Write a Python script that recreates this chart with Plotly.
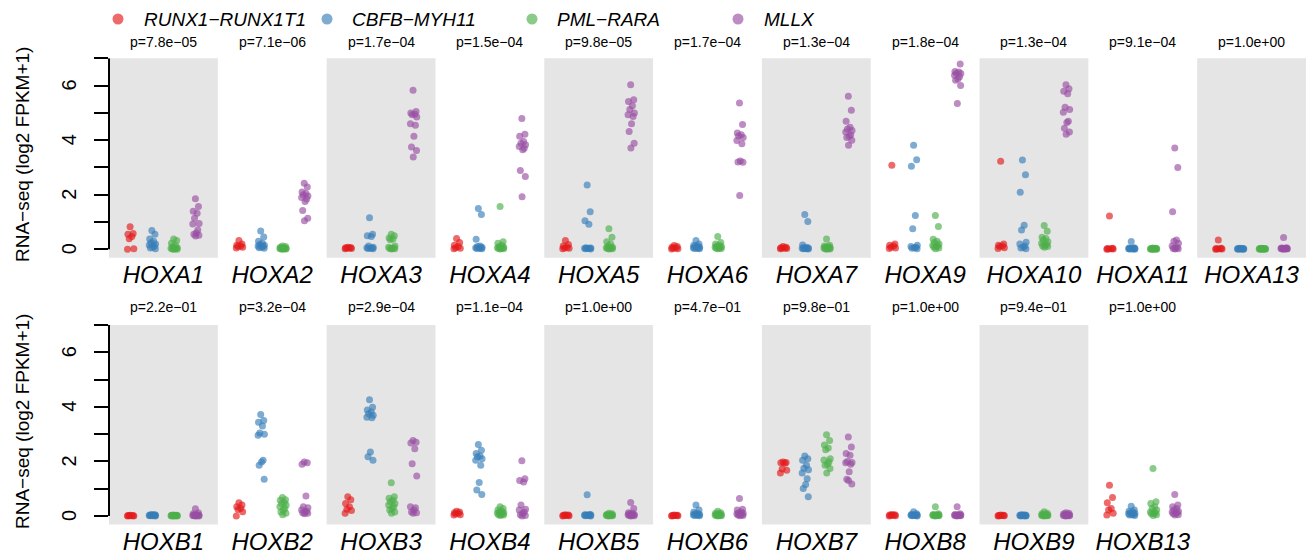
import plotly.graph_objects as go

# ---------------- data ----------------
genes_top = ["HOXA1", "HOXA2", "HOXA3", "HOXA4", "HOXA5", "HOXA6", "HOXA7",
             "HOXA9", "HOXA10", "HOXA11", "HOXA13"]
genes_bottom = ["HOXB1", "HOXB2", "HOXB3", "HOXB4", "HOXB5", "HOXB6", "HOXB7",
                "HOXB8", "HOXB9", "HOXB13"]
pvals_top = ["7.8e−05", "7.1e−06", "1.7e−04", "1.5e−04", "9.8e−05", "1.7e−04",
             "1.3e−04", "1.8e−04", "1.3e−04", "9.1e−04", "1.0e+00"]
pvals_bottom = ["2.2e−01", "3.2e−04", "2.9e−04", "1.1e−04", "1.0e+00", "4.7e−01",
                "9.8e−01", "1.0e+00", "9.4e−01", "1.0e+00"]
groups = ["RUNX1−RUNX1T1", "CBFB−MYH11", "PML−RARA", "MLLX"]
y_tick_values = [0, 1, 2, 3, 4, 5, 6, 7]
y_tick_labels = ["0", "", "2", "", "4", "", "6", ""]

runx1_runx1t1 = {
    "HOXA1": [0.83, 0.58, 0.55, 0.47, 0.39, 0.02, 0.0],
    "HOXA2": [0.32, 0.2, 0.15, 0.12, 0.1, 0.08, 0.05],
    "HOXA3": [0.08, 0.07, 0.06, 0.05, 0.04, 0.03, 0.02],
    "HOXA4": [0.4, 0.25, 0.15, 0.1, 0.06, 0.04, 0.02],
    "HOXA5": [0.32, 0.18, 0.12, 0.08, 0.05, 0.04, 0.02],
    "HOXA6": [0.14, 0.1, 0.08, 0.05, 0.04, 0.02, 0.01],
    "HOXA7": [0.1, 0.08, 0.06, 0.05, 0.04, 0.03, 0.02],
    "HOXA9": [3.08, 0.2, 0.15, 0.12, 0.08, 0.05, 0.03],
    "HOXA10": [3.23, 0.2, 0.15, 0.12, 0.1, 0.06, 0.03],
    "HOXA11": [1.22, 0.04, 0.03, 0.02, 0.01, 0.01, 0.0],
    "HOXA13": [0.34, 0.04, 0.03, 0.02, 0.01, 0.01, 0.0],
    "HOXB1": [0.03, 0.02, 0.02, 0.01, 0.01, 0.0, 0.0],
    "HOXB2": [0.49, 0.4, 0.34, 0.28, 0.24, 0.16, 0.0],
    "HOXB3": [0.71, 0.6, 0.46, 0.34, 0.25, 0.2, 0.1],
    "HOXB4": [0.18, 0.15, 0.12, 0.1, 0.08, 0.05, 0.04],
    "HOXB5": [0.05, 0.04, 0.03, 0.02, 0.02, 0.01, 0.0],
    "HOXB6": [0.04, 0.03, 0.02, 0.02, 0.01, 0.01, 0.0],
    "HOXB7": [1.98, 1.96, 1.95, 1.93, 1.72, 1.68, 1.58],
    "HOXB8": [0.06, 0.05, 0.04, 0.03, 0.02, 0.01, 0.0],
    "HOXB9": [0.04, 0.03, 0.02, 0.02, 0.01, 0.01, 0.0],
    "HOXB13": [1.13, 0.68, 0.49, 0.28, 0.22, 0.1, 0.04],
}

cbfb_myh11 = {
    "HOXA1": [0.69, 0.55, 0.38, 0.3, 0.24, 0.2, 0.16, 0.12, 0.08, 0.05, 0.02],
    "HOXA2": [0.67, 0.45, 0.3, 0.22, 0.18, 0.15, 0.12, 0.1, 0.08, 0.06, 0.04],
    "HOXA3": [1.16, 0.55, 0.5, 0.47, 0.12, 0.08, 0.06, 0.05, 0.04, 0.03, 0.02],
    "HOXA4": [1.5, 1.28, 0.37, 0.12, 0.1, 0.08, 0.06, 0.05, 0.04, 0.03, 0.02],
    "HOXA5": [2.36, 1.38, 1.05, 0.92, 0.06, 0.05, 0.04, 0.04, 0.03, 0.02, 0.01],
    "HOXA6": [0.32, 0.2, 0.15, 0.12, 0.1, 0.08, 0.06, 0.05, 0.04, 0.03, 0.02],
    "HOXA7": [1.28, 1.02, 0.16, 0.08, 0.06, 0.05, 0.04, 0.03, 0.02, 0.02, 0.01],
    "HOXA9": [3.81, 3.28, 3.04, 1.24, 0.75, 0.15, 0.1, 0.08, 0.06, 0.04, 0.02],
    "HOXA10": [3.27, 2.73, 2.09, 0.88, 0.71, 0.26, 0.2, 0.12, 0.08, 0.05, 0.02],
    "HOXA11": [0.29, 0.06, 0.05, 0.04, 0.03, 0.03, 0.02, 0.02, 0.01, 0.01, 0.0],
    "HOXA13": [0.04, 0.03, 0.03, 0.02, 0.02, 0.02, 0.01, 0.01, 0.01, 0.0, 0.0],
    "HOXB1": [0.06, 0.05, 0.04, 0.04, 0.03, 0.03, 0.02, 0.02, 0.01, 0.01, 0.0],
    "HOXB2": [3.72, 3.5, 3.44, 3.3, 3.04, 3.0, 2.96, 2.04, 1.98, 1.86, 1.35],
    "HOXB3": [4.26, 3.99, 3.89, 3.81, 3.75, 3.69, 3.62, 3.6, 2.35, 2.17, 2.04],
    "HOXB4": [2.62, 2.41, 2.29, 2.2, 2.17, 2.1, 2.04, 1.86, 1.23, 0.95, 0.79],
    "HOXB5": [0.78, 0.06, 0.05, 0.05, 0.04, 0.04, 0.03, 0.02, 0.02, 0.01, 0.0],
    "HOXB6": [0.4, 0.22, 0.15, 0.1, 0.08, 0.06, 0.05, 0.04, 0.03, 0.02, 0.01],
    "HOXB7": [2.2, 2.1, 2.04, 1.86, 1.75, 1.7, 1.58, 1.37, 1.16, 1.01, 0.71],
    "HOXB8": [0.16, 0.08, 0.06, 0.05, 0.04, 0.04, 0.03, 0.02, 0.02, 0.01, 0.0],
    "HOXB9": [0.05, 0.04, 0.04, 0.03, 0.03, 0.02, 0.02, 0.01, 0.01, 0.0, 0.0],
    "HOXB13": [0.36, 0.22, 0.18, 0.15, 0.12, 0.1, 0.08, 0.06, 0.05, 0.04, 0.02],
}

pml_rara = {
    "HOXA1": [0.38, 0.32, 0.22, 0.15, 0.1, 0.06, 0.04, 0.03, 0.02, 0.01, 0.0, 0.0],
    "HOXA2": [0.12, 0.1, 0.08, 0.06, 0.05, 0.04, 0.03, 0.02, 0.02, 0.01, 0.01, 0.0],
    "HOXA3": [0.55, 0.5, 0.42, 0.38, 0.35, 0.12, 0.08, 0.05, 0.04, 0.03, 0.02, 0.01],
    "HOXA4": [1.57, 0.28, 0.22, 0.15, 0.1, 0.08, 0.06, 0.05, 0.04, 0.03, 0.02, 0.01],
    "HOXA5": [0.75, 0.44, 0.28, 0.2, 0.12, 0.08, 0.06, 0.05, 0.04, 0.03, 0.02, 0.01],
    "HOXA6": [0.47, 0.25, 0.2, 0.15, 0.12, 0.1, 0.08, 0.06, 0.05, 0.04, 0.03, 0.02],
    "HOXA7": [0.38, 0.15, 0.12, 0.1, 0.08, 0.06, 0.05, 0.04, 0.03, 0.02, 0.01, 0.0],
    "HOXA9": [1.24, 0.84, 0.37, 0.3, 0.25, 0.2, 0.15, 0.12, 0.1, 0.08, 0.05, 0.02],
    "HOXA10": [0.87, 0.66, 0.44, 0.4, 0.34, 0.28, 0.22, 0.18, 0.15, 0.12, 0.1, 0.08],
    "HOXA11": [0.05, 0.04, 0.03, 0.03, 0.02, 0.02, 0.01, 0.01, 0.01, 0.0, 0.0, 0.0],
    "HOXA13": [0.04, 0.03, 0.03, 0.02, 0.02, 0.02, 0.01, 0.01, 0.01, 0.0, 0.0, 0.0],
    "HOXB1": [0.04, 0.03, 0.03, 0.02, 0.02, 0.02, 0.01, 0.01, 0.01, 0.0, 0.0, 0.0],
    "HOXB2": [0.68, 0.6, 0.58, 0.5, 0.46, 0.4, 0.34, 0.28, 0.22, 0.15, 0.1, 0.05],
    "HOXB3": [1.22, 0.71, 0.65, 0.58, 0.52, 0.46, 0.4, 0.34, 0.28, 0.22, 0.15, 0.1],
    "HOXB4": [0.34, 0.28, 0.22, 0.18, 0.15, 0.12, 0.1, 0.08, 0.06, 0.05, 0.04, 0.02],
    "HOXB5": [0.1, 0.08, 0.06, 0.05, 0.04, 0.04, 0.03, 0.02, 0.02, 0.01, 0.01, 0.0],
    "HOXB6": [0.18, 0.12, 0.1, 0.08, 0.06, 0.05, 0.04, 0.03, 0.02, 0.02, 0.01, 0.0],
    "HOXB7": [2.98, 2.77, 2.6, 2.49, 2.43, 2.1, 2.05, 1.98, 1.9, 1.86, 1.74, 1.58],
    "HOXB8": [0.34, 0.08, 0.06, 0.05, 0.04, 0.04, 0.03, 0.02, 0.02, 0.01, 0.01, 0.0],
    "HOXB9": [0.16, 0.1, 0.08, 0.06, 0.05, 0.04, 0.03, 0.02, 0.02, 0.01, 0.01, 0.0],
    "HOXB13": [1.74, 0.52, 0.46, 0.34, 0.28, 0.22, 0.15, 0.12, 0.1, 0.08, 0.05, 0.02],
}

mllx = {
    "HOXA1": [1.85, 1.57, 1.4, 1.32, 1.14, 0.95, 0.93, 0.71, 0.6, 0.55, 0.52, 0.49],
    "HOXA2": [2.42, 2.28, 2.1, 2.05, 2.0, 1.95, 1.9, 1.84, 1.75, 1.42, 1.14, 1.05],
    "HOXA3": [5.83, 5.05, 5.0, 4.95, 4.93, 4.85, 4.6, 4.55, 4.14, 3.75, 3.62, 3.38],
    "HOXA4": [4.79, 4.22, 4.14, 3.95, 3.89, 3.83, 3.77, 3.7, 3.65, 2.89, 2.67, 1.93],
    "HOXA5": [6.03, 5.48, 5.42, 5.26, 5.12, 5.0, 4.93, 4.87, 4.6, 4.32, 3.89, 3.71],
    "HOXA6": [5.36, 4.57, 4.26, 4.2, 4.15, 4.1, 3.99, 3.87, 3.24, 3.2, 3.19, 1.97],
    "HOXA7": [5.61, 5.1, 4.69, 4.47, 4.41, 4.35, 4.3, 4.2, 4.14, 4.1, 4.0, 3.81],
    "HOXA9": [7.26, 6.79, 6.52, 6.5, 6.45, 6.44, 6.38, 6.32, 6.24, 6.2, 6.0, 5.34],
    "HOXA10": [6.03, 5.88, 5.79, 5.7, 5.21, 5.12, 5.02, 4.69, 4.65, 4.44, 4.3, 4.22],
    "HOXA11": [3.71, 3.0, 1.38, 0.34, 0.3, 0.22, 0.12, 0.08, 0.05, 0.03, 0.02, 0.01],
    "HOXA13": [0.43, 0.06, 0.05, 0.04, 0.04, 0.03, 0.03, 0.02, 0.02, 0.01, 0.01, 0.0],
    "HOXB1": [0.27, 0.12, 0.08, 0.05, 0.04, 0.03, 0.02, 0.02, 0.01, 0.01, 0.0, 0.0],
    "HOXB2": [1.98, 1.95, 1.9, 0.73, 0.34, 0.3, 0.22, 0.18, 0.15, 0.12, 0.1, 0.08],
    "HOXB3": [2.77, 2.7, 2.68, 2.47, 1.92, 1.47, 0.34, 0.3, 0.22, 0.15, 0.12, 0.1],
    "HOXB4": [2.03, 1.37, 1.3, 1.25, 0.4, 0.25, 0.22, 0.15, 0.1, 0.05, 0.02, 0.0],
    "HOXB5": [0.5, 0.28, 0.12, 0.1, 0.08, 0.06, 0.05, 0.04, 0.03, 0.02, 0.01, 0.0],
    "HOXB6": [0.64, 0.25, 0.22, 0.15, 0.12, 0.1, 0.08, 0.06, 0.05, 0.04, 0.02, 0.01],
    "HOXB7": [2.9, 2.53, 2.29, 2.23, 2.0, 1.96, 1.95, 1.9, 1.62, 1.35, 1.17, 1.3],
    "HOXB8": [0.34, 0.08, 0.06, 0.05, 0.04, 0.04, 0.03, 0.02, 0.02, 0.01, 0.01, 0.0],
    "HOXB9": [0.12, 0.1, 0.08, 0.06, 0.05, 0.04, 0.03, 0.02, 0.02, 0.01, 0.01, 0.0],
    "HOXB13": [0.79, 0.4, 0.34, 0.28, 0.22, 0.18, 0.15, 0.12, 0.1, 0.08, 0.05, 0.04],
}

group_values = [runx1_runx1t1, cbfb_myh11, pml_rara, mllx]

# ---------------- style ----------------
W, H = 1315, 558
FONT = "Liberation Sans, Arial, Helvetica, sans-serif"
COLORS = ["rgba(228,26,28,0.65)", "rgba(55,126,184,0.65)",
          "rgba(77,175,74,0.65)", "rgba(152,78,163,0.65)"]
JITTER = [-0.03, 0.11, -0.13, 0.05, -0.07, 0.14, -0.15, 0.08, 0.01, -0.1, 0.13, -0.02]
PANEL_W = 5          # x units per panel (groups at 1..4)
N_SLOTS = 11
X_LEFT, X_RIGHT = 109, 1306
YRANGE = [-0.31, 7.0]
TICKLABEL_X = 69     # px centre of rotated y tick labels
rows = [
    dict(genes=genes_top, pvals=pvals_top, xa="x", ya="y",
         dom=[1 - 257.8 / H, 1 - 58.3 / H], p_y=41.7, title_y=155.0),
    dict(genes=genes_bottom, pvals=pvals_bottom, xa="x2", ya="y2",
         dom=[1 - 524.5 / H, 1 - 325.0 / H], p_y=306.7, title_y=422.0),
]

fig = go.Figure()
shapes = []
annotations = []

for r, row in enumerate(rows):
    genes = row["genes"]
    for g, vals in enumerate(group_values):
        xs, ys = [], []
        for i, gene in enumerate(genes):
            for k, v in enumerate(vals[gene]):
                xs.append(i * PANEL_W + g + 1 + JITTER[k % len(JITTER)])
                ys.append(v)
        fig.add_trace(go.Scatter(
            x=xs, y=ys, mode="markers", xaxis=row["xa"], yaxis=row["ya"],
            name=groups[g], showlegend=False, cliponaxis=False,
            marker=dict(size=7, color=COLORS[g], line=dict(width=0)),
        ))
    # alternating grey panel backgrounds
    for i in range(0, len(genes), 2):
        shapes.append(dict(type="rect", xref=row["xa"], yref=row["ya"] + " domain",
                           x0=i * PANEL_W, x1=(i + 1) * PANEL_W, y0=0, y1=1,
                           fillcolor="#E5E5E5", line=dict(width=0), layer="below"))
    # y axis line from 0 to 7
    shapes.append(dict(type="line", xref=row["xa"] + " domain", yref=row["ya"],
                       x0=0, x1=0, y0=y_tick_values[0], y1=y_tick_values[-1],
                       line=dict(color="black", width=2)))
    # rotated y tick labels
    for tv, tl in zip(y_tick_values, y_tick_labels):
        if tl:
            annotations.append(dict(text=tl, xref="paper", yref=row["ya"],
                                    x=TICKLABEL_X / W, y=tv, textangle=-90,
                                    showarrow=False, xanchor="center", yanchor="middle",
                                    font=dict(size=20, color="black", family=FONT)))
    # p-values
    for i, p in enumerate(row["pvals"]):
        annotations.append(dict(text="p=" + p, xref=row["xa"], yref="paper",
                                x=i * PANEL_W + PANEL_W / 2, y=1 - row["p_y"] / H,
                                showarrow=False, xanchor="center", yanchor="middle",
                                font=dict(size=14, color="black", family=FONT)))
    # axis title
    annotations.append(dict(text="RNA−seq (log2 FPKM+1)", xref="paper", yref="paper",
                            x=22 / W, y=1 - row["title_y"] / H, textangle=-90,
                            showarrow=False, xanchor="center", yanchor="middle",
                            font=dict(size=19, color="black", family=FONT)))

axis_common_x = dict(domain=[X_LEFT / W, X_RIGHT / W], range=[0, N_SLOTS * PANEL_W],
                     showgrid=False, zeroline=False, showline=False, ticks="",
                     tickfont=dict(size=24, color="black", family=FONT))
axis_common_y = dict(range=YRANGE, showgrid=False, zeroline=False, showline=False,
                     tickvals=y_tick_values, showticklabels=False,
                     ticks="outside", ticklen=14, tickwidth=2, tickcolor="black")

fig.update_layout(
    xaxis=dict(**axis_common_x, anchor="y",
               tickvals=[i * PANEL_W + PANEL_W / 2 for i in range(len(genes_top))],
               ticktext=["<i>%s</i>" % gname for gname in genes_top]),
    xaxis2=dict(**axis_common_x, anchor="y2",
                tickvals=[i * PANEL_W + PANEL_W / 2 for i in range(len(genes_bottom))],
                ticktext=["<i>%s</i>" % gname for gname in genes_bottom]),
    yaxis=dict(**axis_common_y, domain=rows[0]["dom"], anchor="x"),
    yaxis2=dict(**axis_common_y, domain=rows[1]["dom"], anchor="x2"),
)

# legend (top)
legend_dot_x = [118, 327, 532, 738]
legend_txt_x = [142, 350, 555, 762]
LEG_Y = 1 - 19 / H
for g in range(4):
    shapes.append(dict(type="circle", xref="paper", yref="paper",
                       xsizemode="pixel", ysizemode="pixel",
                       xanchor=legend_dot_x[g] / W, yanchor=LEG_Y,
                       x0=-5.5, x1=5.5, y0=-5.5, y1=5.5,
                       fillcolor=COLORS[g], line=dict(width=0)))
    annotations.append(dict(text="<i>%s</i>" % groups[g], xref="paper", yref="paper",
                            x=legend_txt_x[g] / W, y=LEG_Y, showarrow=False,
                            xanchor="left", yanchor="middle",
                            font=dict(size=19, color="black", family=FONT)))

fig.update_layout(
    width=W, height=H, margin=dict(l=0, r=0, t=0, b=0),
    plot_bgcolor="white", paper_bgcolor="white", showlegend=False,
    font=dict(family=FONT, color="black"),
    shapes=shapes, annotations=annotations,
)

fig.write_html("out.html")
